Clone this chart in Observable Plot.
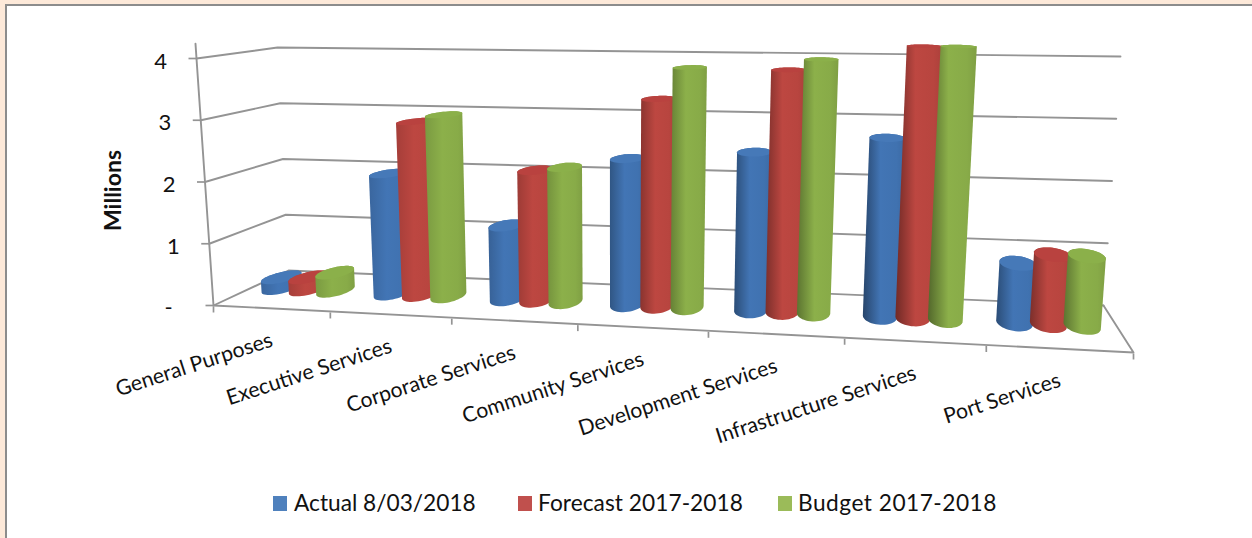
<!DOCTYPE html>
<html>
<head>
<meta charset="utf-8">
<script src="https://cdn.jsdelivr.net/npm/d3@7"></script>
<script src="https://cdn.jsdelivr.net/npm/@observablehq/plot@0.6"></script>
<style>
  html, body { margin: 0; padding: 0; width: 1252px; height: 538px; overflow: hidden; background: #fde9d9; }
  #panel { position: absolute; left: 5px; top: 4px; right: 0; bottom: 0; background: #fff;
           border-left: 2px solid #8c8c8c; border-top: 2px solid #8c8c8c; }
  #chart { position: absolute; left: 0; top: 0; }
  #chart svg { background: transparent; display: block; }
  #legend { position: absolute; left: 0; top: 485px; font: 22.7px Lato, sans-serif; color: #111; }
  #legend span { position: absolute; top: 0; white-space: nowrap; line-height: 36px; }
  #legend i { position: absolute; top: 11px; width: 14px; height: 15px; }
</style>
</head>
<body>
<div id="panel"></div>
<div id="chart"></div>
<div id="legend"></div>
<script>
const categories = ["General Purposes", "Executive Services", "Corporate Services", "Community Services",
                    "Development Services", "Infrastructure Services", "Port Services"];
const seriesNames = ["Actual 8/03/2018", "Forecast 2017-2018", "Budget 2017-2018"];
const actual   = [0.18, 2.0, 1.2, 2.35, 2.5, 2.77, 0.9];
const forecast = [0.2, 2.88, 2.12, 3.32, 3.81, 4.2, 1.05];
const budget   = [0.3, 3.0, 2.18, 3.83, 3.98, 4.2, 1.05];
const valueTicks = [0, 1, 2, 3, 4];
const tickLabels = ["-", "1", "2", "3", "4"];
const seriesValues = [actual, forecast, budget];
const seriesColors = ["#4072b0", "#b8453f", "#88ab48"];
const capColors = ["#4679b8", "#b9423f", "#8bb04a"];
const legendColors = ["#4f81bd", "#c0504d", "#9bbb59"];
// How strongly the left side of each cluster's cylinders falls into shade.
const leftShade = [0.3, 0.3, 0.45, 0.8, 1.1, 1.4, 1.1];

// Camera: the floor and the plane at the axis maximum as corners in scene units,
// and where each category boundary falls along the foreshortened width.
const floorQuad = [[213, 305], [1133, 352], [1103, 305], [288, 270]];
const topQuad = [[196, 58], [1155, 66], [1120, 56], [277, 47]];
const boundaryStops = [0, 0.127, 0.259, 0.396, 0.538, 0.686, 0.84, 1];
const maxValue = 4;
const nCat = categories.length;
const widthAt = d3.scaleLinear().domain(d3.range(nCat + 1)).range(boundaryStops);

function quadPoint([a, b, c, d], s, t) {
  const fx = a[0] + (b[0] - a[0]) * s, fy = a[1] + (b[1] - a[1]) * s;
  const bx = d[0] + (c[0] - d[0]) * s, by = d[1] + (c[1] - d[1]) * s;
  return [fx + (bx - fx) * t, fy + (by - fy) * t];
}

// Scene position of a category offset u, a depth w (0 front, 1 back) and a value v.
function project(u, w, v) {
  const s = widthAt(u);
  const [fx, fy] = quadPoint(floorQuad, s, w), [tx, ty] = quadPoint(topQuad, s, w);
  const k = v / maxValue;
  return [fx + (tx - fx) * k, fy + (ty - fy) * k];
}

const radiusU = 0.13, radiusW = 0.2, centerW = 0.54, stepU = 0.245;
const ring = (u, v) => d3.range(48).map(i => {
  const a = i / 48 * 2 * Math.PI;
  return project(u + radiusU * Math.cos(a), centerW + radiusW * Math.sin(a), v);
});

const x = d => d[0], y = d => d[1];
const stroke = "#949494";

// Back wall, left wall and floor rules
const grid = [];
for (const v of valueTicks) {
  grid.push(Plot.line([project(0, 0, v), project(0, 1, v), project(nCat, 1, v)],
    {x, y, stroke, strokeWidth: 1.9}));
}
const frame = [
  Plot.line([project(0, 0, 4.24), project(0, 0, 0), project(nCat, 0, 0), project(nCat, 1, 0)],
    {x, y, stroke, strokeWidth: 1.9}),
  Plot.link(valueTicks.map(v => project(0, 0, v)),
    {x1: d => d[0] - 8, y1: y, x2: x, y2: y, stroke, strokeWidth: 1.7}),
  Plot.link(d3.range(nCat + 1).map(i => project(i, 0, 0)),
    {x1: x, y1: d => d[1] + 1, x2: x, y2: d => d[1] + 7, stroke, strokeWidth: 1.7})
];

// One body and one cap for every cylinder, drawn left to right so later ones overlap.
const cylinders = [];
categories.forEach((cat, i) => {
  seriesValues.forEach((vals, s) => {
    const u = i + 0.5 + (s - 1) * stepU;
    const v = vals[i];
    const hull = d3.polygonHull([...ring(u, 0), ...ring(u, v)]);
    cylinders.push(
      Plot.line(hull, {x, y, curve: "linear-closed", fill: `url(#shade-${s}-${i})`, stroke: "none"}),
      Plot.line(ring(u, v), {x, y, curve: "linear-closed", fill: capColors[s], stroke: "none"})
    );
  });
});

const labelRows = categories.map((name, i) => {
  const [px, py] = project(i + 0.5, 0, 0);
  return {name, px, py};
});
const valueRows = valueTicks.map((v, i) => {
  const [px, py] = project(0, 0, v);
  return {label: tickLabels[i], px, py};
});

const chart = Plot.plot({
  width: 1252, height: 480,
  margin: 0,
  x: {domain: [0, 1252], range: [0, 1252], axis: null},
  y: {domain: [0, 480], range: [0, 480], axis: null},
  style: {background: "transparent"},
  marks: [
    ...grid,
    ...frame,
    ...cylinders,
    Plot.text(valueRows, {x: "px", y: "py", text: "label", fontSize: 22, fontFamily: "Lato, sans-serif",
      fill: "#111", dy: 3, textAnchor: "middle", filter: d => d.label !== "-", dx: -36}),
    Plot.text(valueRows, {x: "px", y: "py", text: "label", fontSize: 22, fontFamily: "Lato, sans-serif",
      fill: "#111", dy: 2, textAnchor: "middle", filter: d => d.label === "-", dx: -45}),
    Plot.text(labelRows, {x: "px", y: "py", text: "name", fontSize: 21.2, fontFamily: "Lato, sans-serif",
      fill: "#111", rotate: -18, textAnchor: "end", dx: 0, dy: 31}),
    Plot.text(["Millions"], {x: () => 113, y: () => 190, text: d => d, rotate: -90, fontSize: 23,
      fontWeight: "bold", fontFamily: "Lato, sans-serif", fill: "#111"})
  ]
});

// Cylinder shading: a horizontal gradient per series and cluster.
const defs = d3.select(chart).insert("defs", ":first-child");
seriesColors.forEach((c, s) => {
  categories.forEach((_, i) => {
    const lg = defs.append("linearGradient").attr("id", `shade-${s}-${i}`)
      .attr("x1", 0).attr("x2", 1).attr("y1", 0).attr("y2", 0);
    const stops = [[0, d3.color(c).darker(leftShade[i])], [0.42, d3.color(c).brighter(0.08)],
                   [0.8, d3.color(c)], [1, d3.color(c).darker(0.2)]];
    for (const [o, col] of stops) lg.append("stop").attr("offset", o).attr("stop-color", col.formatHex());
  });
});
document.getElementById("chart").appendChild(chart);

// Legend row under the chart
const legend = d3.select("#legend");
const swatchLeft = [273, 518, 778], textLeft = [294, 538, 798], tracking = [0, 0.05, 0.5];
seriesNames.forEach((name, s) => {
  legend.append("i").style("left", swatchLeft[s] + "px").style("background", legendColors[s]);
  legend.append("span").style("left", textLeft[s] + "px").style("letter-spacing", tracking[s] + "px").text(name);
});
</script>
</body>
</html>
